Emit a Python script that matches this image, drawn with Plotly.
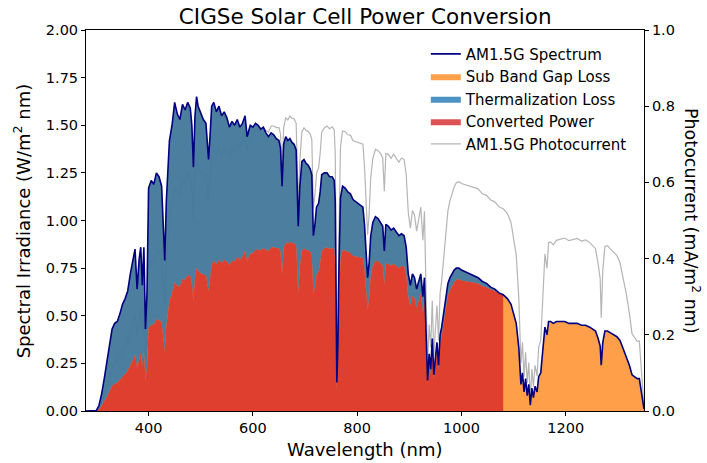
import plotly.graph_objects as go

# Wavelength grid (nm)
wavelength = [280, 290, 296, 300, 305, 310, 315, 320, 325, 330, 335, 340, 345, 350, 355, 360, 365, 370, 374, 378,
              382, 385, 388, 391, 394, 397, 400, 405, 410, 415, 420, 425, 428, 431, 434, 437, 440, 445, 450, 455,
              460, 465, 470, 475, 480, 483, 486, 489, 492, 495, 500, 505, 510, 515, 518, 521, 525, 530, 535, 540,
              545, 550, 555, 560, 565, 570, 575, 580, 585, 589, 592, 595, 600, 605, 610, 615, 620, 625, 630, 635,
              640, 645, 650, 653, 656, 659, 663, 667, 671, 675, 679, 683, 687, 690, 694, 698, 702, 706, 710, 713,
              716, 719, 722, 726, 729, 732, 737, 742, 747, 752, 756, 758, 761, 763, 765, 768, 772, 777, 782, 787,
              792, 797, 802, 807, 811, 814, 817, 820, 823, 826, 830, 835, 840, 845, 849, 852, 855, 860, 865, 870,
              875, 880, 885, 890, 894, 898, 902, 906, 910, 914, 918, 922, 926, 929, 932, 935, 938, 941, 944, 947,
              950, 953, 956, 959, 962, 966, 970, 974, 978, 982, 986, 990, 995, 1000, 1008, 1016, 1024, 1032, 1040, 1048,
              1056, 1064, 1072, 1080, 1088, 1095, 1100, 1105, 1110, 1114, 1117, 1120, 1123, 1126, 1129, 1132, 1135, 1138, 1141, 1145,
              1148, 1152, 1156, 1160, 1164, 1167, 1171, 1176, 1182, 1190, 1198, 1206, 1214, 1222, 1230, 1238, 1246, 1252, 1257, 1262,
              1266, 1268, 1271, 1275, 1280, 1286, 1292, 1298, 1304, 1310, 1316, 1322, 1327, 1332, 1337, 1341, 1344, 1347, 1350]

# AM1.5G spectral irradiance (W/m^2 nm)
spectrum = [0.000, 0.000, 0.000, 0.003, 0.03, 0.09, 0.17, 0.25, 0.33, 0.43, 0.46, 0.47, 0.51, 0.56, 0.59, 0.63, 0.72, 0.79, 0.85, 0.64,
            0.80, 0.86, 0.66, 0.86, 0.43, 0.62, 1.17, 1.21, 1.19, 1.25, 1.23, 1.18, 0.98, 0.79, 1.10, 1.28, 1.42, 1.50, 1.62, 1.56,
            1.53, 1.61, 1.58, 1.62, 1.59, 1.50, 1.28, 1.55, 1.65, 1.60, 1.56, 1.53, 1.51, 1.32, 1.45, 1.60, 1.62, 1.57, 1.60, 1.55,
            1.57, 1.54, 1.49, 1.52, 1.50, 1.53, 1.49, 1.51, 1.55, 1.44, 1.47, 1.50, 1.49, 1.51, 1.50, 1.48, 1.49, 1.46, 1.44, 1.46,
            1.45, 1.43, 1.42, 1.38, 1.18, 1.40, 1.44, 1.42, 1.43, 1.41, 1.40, 1.37, 0.97, 1.18, 1.31, 1.32, 1.30, 1.29, 1.27, 1.24,
            0.92, 0.98, 1.07, 1.09, 1.15, 1.24, 1.25, 1.25, 1.23, 1.23, 1.21, 1.10, 0.15, 0.35, 0.75, 1.12, 1.18, 1.17, 1.15, 1.14,
            1.11, 1.10, 1.09, 1.08, 1.07, 0.98, 0.83, 0.70, 0.78, 0.92, 0.99, 1.02, 1.01, 0.99, 0.97, 0.84, 0.98, 0.97, 0.95, 0.96,
            0.94, 0.92, 0.93, 0.92, 0.86, 0.72, 0.66, 0.72, 0.70, 0.64, 0.68, 0.72, 0.60, 0.70, 0.42, 0.16, 0.30, 0.22, 0.38, 0.19,
            0.28, 0.36, 0.24, 0.40, 0.44, 0.52, 0.60, 0.67, 0.70, 0.72, 0.74, 0.75, 0.75, 0.74, 0.73, 0.72, 0.71, 0.70, 0.68, 0.67,
            0.65, 0.64, 0.62, 0.61, 0.59, 0.56, 0.51, 0.46, 0.33, 0.14, 0.20, 0.10, 0.17, 0.08, 0.14, 0.03, 0.12, 0.07, 0.13, 0.10,
            0.18, 0.20, 0.32, 0.44, 0.40, 0.47, 0.47, 0.46, 0.47, 0.47, 0.47, 0.46, 0.46, 0.46, 0.45, 0.45, 0.44, 0.43, 0.42, 0.38,
            0.34, 0.24, 0.36, 0.42, 0.42, 0.41, 0.40, 0.39, 0.37, 0.33, 0.29, 0.24, 0.19, 0.18, 0.17, 0.17, 0.12, 0.06, 0.01]

# Converted power (W/m^2 nm), wavelengths up to the band gap (1080 nm)
converted = [0.000, 0.000, 0.000, 0.001, 0.008, 0.026, 0.050, 0.074, 0.099, 0.131, 0.143, 0.148, 0.163, 0.181, 0.194, 0.210, 0.243, 0.271, 0.294, 0.224,
             0.283, 0.307, 0.237, 0.311, 0.157, 0.228, 0.433, 0.454, 0.452, 0.480, 0.478, 0.464, 0.388, 0.315, 0.442, 0.518, 0.579, 0.618, 0.675, 0.657,
             0.652, 0.693, 0.688, 0.712, 0.707, 0.671, 0.576, 0.702, 0.752, 0.733, 0.722, 0.715, 0.713, 0.629, 0.695, 0.772, 0.788, 0.770, 0.793, 0.775,
             0.792, 0.784, 0.766, 0.788, 0.785, 0.808, 0.793, 0.811, 0.840, 0.785, 0.806, 0.826, 0.828, 0.846, 0.847, 0.843, 0.855, 0.845, 0.840, 0.858,
             0.859, 0.854, 0.855, 0.834, 0.717, 0.854, 0.884, 0.877, 0.888, 0.881, 0.880, 0.866, 0.617, 0.754, 0.842, 0.853, 0.845, 0.843, 0.835, 0.819,
             0.610, 0.652, 0.715, 0.733, 0.776, 0.840, 0.853, 0.859, 0.851, 0.856, 0.847, 0.772, 0.106, 0.247, 0.531, 0.796, 0.843, 0.842, 0.833, 0.831,
             0.814, 0.812, 0.809, 0.807, 0.803, 0.739, 0.628, 0.532, 0.594, 0.704, 0.761, 0.789, 0.786, 0.775, 0.763, 0.663, 0.776, 0.772, 0.761, 0.773,
             0.762, 0.750, 0.762, 0.758, 0.712, 0.599, 0.551, 0.604, 0.590, 0.542, 0.578, 0.615, 0.514, 0.602, 0.362, 0.139, 0.261, 0.192, 0.332, 0.167,
             0.246, 0.318, 0.212, 0.355, 0.392, 0.465, 0.539, 0.604, 0.634, 0.655, 0.676, 0.688, 0.691, 0.685, 0.681, 0.677, 0.673, 0.669, 0.655, 0.650,
             0.636, 0.631, 0.615, 0.610]

# AM1.5G photocurrent (mA/m^2 nm), right axis
photocurrent = [0.000, 0.000, 0.000, 0.001, 0.007, 0.023, 0.043, 0.065, 0.086, 0.114, 0.124, 0.129, 0.142, 0.158, 0.169, 0.183, 0.212, 0.236, 0.256, 0.195,
                0.246, 0.267, 0.207, 0.271, 0.137, 0.199, 0.377, 0.395, 0.393, 0.418, 0.417, 0.404, 0.338, 0.275, 0.385, 0.451, 0.504, 0.538, 0.588, 0.572,
                0.568, 0.604, 0.599, 0.621, 0.615, 0.584, 0.502, 0.611, 0.655, 0.639, 0.629, 0.623, 0.621, 0.548, 0.606, 0.672, 0.686, 0.671, 0.690, 0.675,
                0.690, 0.683, 0.667, 0.686, 0.683, 0.703, 0.691, 0.706, 0.731, 0.684, 0.702, 0.720, 0.721, 0.737, 0.738, 0.734, 0.745, 0.736, 0.732, 0.748,
                0.748, 0.744, 0.744, 0.727, 0.624, 0.744, 0.770, 0.764, 0.774, 0.768, 0.767, 0.755, 0.537, 0.657, 0.733, 0.743, 0.736, 0.734, 0.727, 0.713,
                0.531, 0.568, 0.623, 0.638, 0.676, 0.732, 0.743, 0.748, 0.741, 0.746, 0.738, 0.672, 0.092, 0.215, 0.463, 0.694, 0.735, 0.733, 0.725, 0.724,
                0.709, 0.707, 0.705, 0.703, 0.700, 0.643, 0.547, 0.463, 0.518, 0.613, 0.663, 0.687, 0.684, 0.675, 0.664, 0.577, 0.676, 0.673, 0.663, 0.674,
                0.663, 0.653, 0.664, 0.660, 0.620, 0.521, 0.480, 0.526, 0.514, 0.472, 0.503, 0.535, 0.448, 0.524, 0.316, 0.121, 0.227, 0.167, 0.289, 0.145,
                0.215, 0.277, 0.185, 0.309, 0.341, 0.405, 0.469, 0.526, 0.552, 0.570, 0.588, 0.599, 0.602, 0.597, 0.593, 0.590, 0.586, 0.583, 0.570, 0.566,
                0.554, 0.549, 0.536, 0.531, 0.518, 0.495, 0.452, 0.410, 0.295, 0.126, 0.180, 0.090, 0.154, 0.073, 0.127, 0.027, 0.110, 0.064, 0.120, 0.092,
                0.167, 0.186, 0.298, 0.412, 0.375, 0.442, 0.444, 0.436, 0.448, 0.451, 0.454, 0.447, 0.450, 0.453, 0.446, 0.449, 0.442, 0.434, 0.426, 0.387,
                0.347, 0.245, 0.369, 0.432, 0.434, 0.425, 0.417, 0.408, 0.389, 0.349, 0.308, 0.256, 0.203, 0.193, 0.183, 0.184, 0.130, 0.065, 0.011]

band_gap_nm = 1080
n_gap = len(converted)
wl_gap = wavelength[:n_gap]
spec_gap = spectrum[:n_gap]

left_ticks = [0.0, 0.25, 0.5, 0.75, 1.0, 1.25, 1.5, 1.75, 2.0]
right_ticks = [0.0, 0.2, 0.4, 0.6, 0.8, 1.0]
x_ticks = [400, 600, 800, 1000, 1200]

FONT = "DejaVu Sans"
fig = go.Figure()

# Photocurrent on the (right) base axis, drawn under the fills
fig.add_trace(go.Scatter(x=wavelength, y=photocurrent, mode="lines", name="AM1.5G Photocurrent",
                         line=dict(color="rgba(150,150,150,0.7)", width=1.2), yaxis="y", legendrank=5))
# Sub band gap loss (orange) under whole spectrum
fig.add_trace(go.Scatter(x=wavelength, y=spectrum, mode="lines", name="Sub Band Gap Loss",
                         line=dict(width=0, color="rgba(0,0,0,0)"), fill="tozeroy",
                         fillcolor="rgba(255,127,14,0.75)", yaxis="y2", legendrank=2))
# Thermalization loss: between converted power and spectrum
fig.add_trace(go.Scatter(x=wl_gap, y=converted, mode="lines", showlegend=False,
                         line=dict(width=0, color="rgba(0,0,0,0)"), yaxis="y2", hoverinfo="skip"))
fig.add_trace(go.Scatter(x=wl_gap, y=spec_gap, mode="lines", name="Thermalization Loss",
                         line=dict(width=0, color="rgba(0,0,0,0)"), fill="tonexty",
                         fillcolor="rgba(31,119,180,0.8)", yaxis="y2", legendrank=3))
# Converted power
fig.add_trace(go.Scatter(x=wl_gap, y=converted, mode="lines", name="Converted Power",
                         line=dict(width=0, color="rgba(0,0,0,0)"), fill="tozeroy",
                         fillcolor="rgba(214,39,40,0.8)", yaxis="y2", legendrank=4))
# Spectrum line on top
fig.add_trace(go.Scatter(x=wavelength, y=spectrum, mode="lines", name="AM1.5G Spectrum",
                         line=dict(color="navy", width=1.6), yaxis="y2", legendrank=1))

axis_common = dict(showgrid=False, zeroline=False, showline=True, linecolor="black", linewidth=1,
                   ticks="outside", ticklen=4, tickcolor="black",
                   tickfont=dict(family=FONT, size=14.5, color="black"))

fig.update_layout(
    width=707, height=463,
    margin=dict(l=86, r=63, t=30, b=52),
    paper_bgcolor="white", plot_bgcolor="white",
    font=dict(family=FONT, color="black"),
    title=dict(text="CIGSe Solar Cell Power Conversion", x=0.5165, xanchor="center",
               y=1 - 16 / 463, yanchor="middle", yref="container",
               font=dict(family=FONT, size=21.5, color="black")),
    xaxis=dict(range=[280, 1350], tickvals=x_ticks, mirror=True, **axis_common),
    yaxis=dict(range=[0, 1], side="right", tickvals=right_ticks,
               ticktext=[f"{v:.1f}" for v in right_ticks], **axis_common),
    yaxis2=dict(range=[0, 2], side="left", overlaying="y", tickvals=left_ticks,
                ticktext=[f"{v:.2f}" for v in left_ticks], **axis_common),
    legend=dict(x=0.609, y=0.98, xanchor="left", yanchor="top", bgcolor="rgba(255,255,255,0)",
                traceorder="normal", borderwidth=0,
                font=dict(family=FONT, size=15, color="black")),
    showlegend=True,
)

fig.add_annotation(text="Spectral Irradiance (W/m<sup>2</sup> nm)", xref="paper", yref="paper",
                   x=-0.115, y=0.5, xanchor="center", yanchor="middle", textangle=-90, showarrow=False,
                   font=dict(family=FONT, size=18, color="black"))
fig.add_annotation(text="Photocurrent (mA/m<sup>2</sup> nm)", xref="paper", yref="paper",
                   x=1.087, y=0.5, xanchor="center", yanchor="middle", textangle=90, showarrow=False,
                   font=dict(family=FONT, size=17.5, color="black"))
fig.add_annotation(text="Wavelength (nm)", xref="paper", yref="paper",
                   x=0.5, y=-0.1, xanchor="center", yanchor="middle", showarrow=False,
                   font=dict(family=FONT, size=18, color="black"))

fig.write_html("out.html")
